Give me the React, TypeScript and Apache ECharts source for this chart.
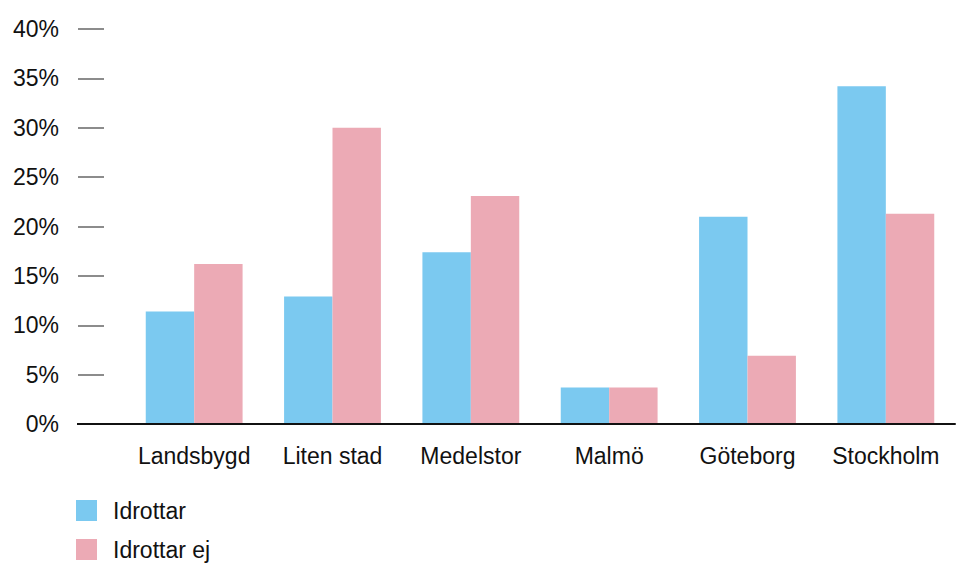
import React, { useEffect, useRef } from "react";
import * as echarts from "echarts";

const categories = ["Landsbygd", "Liten stad", "Medelstor", "Malmö", "Göteborg", "Stockholm"];
const idrottar = [11.4, 12.9, 17.4, 3.7, 21.0, 34.2];
const idrottarEj = [16.2, 30.0, 23.1, 3.7, 6.9, 21.3];
const seriesNames = ["Idrottar", "Idrottar ej"];
const colors = ["#7BC9F0", "#ECAAB5"];

const FONT = "'Liberation Sans', Arial, Helvetica, sans-serif";

export default function App() {
  const ref = useRef<HTMLDivElement>(null);

  useEffect(() => {
    if (!ref.current) return;
    const chart = echarts.init(ref.current, null, { renderer: "svg" });
    chart.setOption({
      animation: false,
      textStyle: { fontFamily: FONT },
      grid: { left: 125, right: 3, top: 29, bottom: 140 },
      legend: {
        orient: "vertical",
        left: 76,
        top: 499,
        padding: 0,
        icon: "rect",
        itemWidth: 21,
        itemHeight: 21,
        itemGap: 16,
        textStyle: { fontSize: 23, color: "#111", fontFamily: FONT, padding: [0, 0, 0, 11] },
        data: seriesNames,
      },
      xAxis: {
        type: "category",
        data: categories,
        axisLine: { show: true, lineStyle: { color: "#111", width: 2 } },
        axisTick: { show: false },
        axisLabel: { interval: 0, fontSize: 23, color: "#111", margin: 20, fontFamily: FONT },
        z: 5,
      },
      yAxis: {
        type: "value",
        min: 0,
        max: 40,
        interval: 5,
        offset: 21,
        axisLine: { show: false },
        axisTick: { show: true, length: 26, lineStyle: { color: "#666", width: 1.5 } },
        splitLine: { show: false },
        axisLabel: {
          fontSize: 23,
          color: "#111",
          margin: 45,
          fontFamily: FONT,
          formatter: (v: number) => `${v}%`,
          padding: [0, 0, 10, 0],
        },
      },
      series: [
        {
          name: seriesNames[0],
          type: "bar",
          data: idrottar,
          itemStyle: { color: colors[0] },
          barGap: "0%",
          barCategoryGap: "30%",
        },
        {
          name: seriesNames[1],
          type: "bar",
          data: idrottarEj,
          itemStyle: { color: colors[1] },
          barGap: "0%",
          barCategoryGap: "30%",
        },
      ],
    });

    // extend the baseline leftwards under the 0% tick
    const y0 = chart.convertToPixel({ yAxisIndex: 0 }, 0) as number;
    chart.setOption({
      graphic: [
        {
          type: "line",
          shape: { x1: 77, y1: y0, x2: 126, y2: y0 },
          style: { stroke: "#111", lineWidth: 2 },
          z: 10,
        },
      ],
    });

    return () => chart.dispose();
  }, []);

  return (
    <div
      ref={ref}
      style={{ position: "fixed", left: 0, top: 0, width: 958, height: 564, background: "#fff" }}
    />
  );
}
